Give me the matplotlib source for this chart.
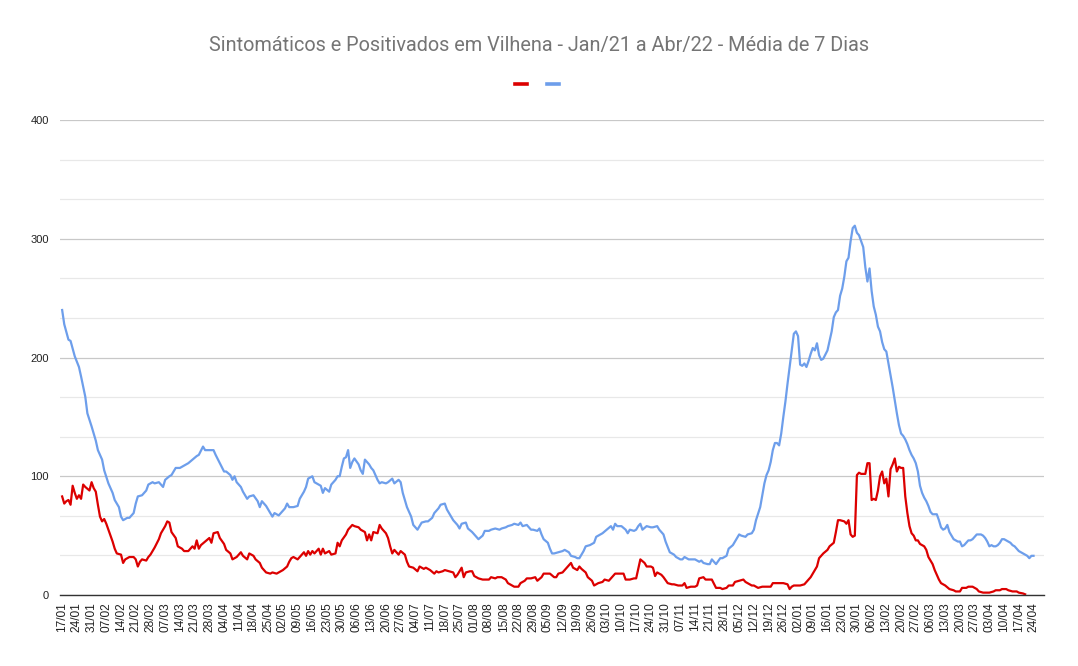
import matplotlib
matplotlib.use("Agg")
import matplotlib.pyplot as plt
import numpy as np
import pandas as pd

# days since 17/01/2021 and 7-day averages
sint_days = [0, 1, 3, 4, 6, 8, 9, 11, 12, 14, 16, 17, 19, 20, 22, 24, 25, 27, 28, 29,
             31, 32, 34, 35, 36, 38, 40, 41, 43, 44, 46, 48, 49, 51, 52, 54, 56, 57, 59, 60,
             62, 64, 65, 67, 68, 70, 72, 73, 75, 77, 78, 80, 81, 82, 83, 85, 86, 88, 89, 91,
             93, 94, 95, 97, 98, 100, 101, 103, 104, 106, 107, 108, 110, 112, 113, 115, 116, 117, 119, 120,
             122, 123, 124, 125, 127, 128, 130, 131, 132, 133, 134, 135, 136, 137, 138, 139, 141, 142, 143, 144,
             146, 147, 148, 150, 151, 152, 154, 155, 157, 158, 160, 161, 162, 164, 166, 167, 169, 171, 173, 174,
             176, 177, 179, 180, 182, 183, 185, 186, 188, 189, 190, 192, 193, 195, 196, 198, 200, 201, 203, 204,
             206, 208, 209, 211, 212, 214, 215, 217, 218, 219, 221, 223, 224, 226, 227, 228, 229, 231, 232, 233,
             234, 236, 238, 239, 241, 242, 244, 245, 246, 248, 249, 251, 253, 254, 256, 257, 259, 261, 262, 263,
             264, 266, 268, 269, 270, 272, 273, 274, 275, 276, 278, 280, 281, 283, 284, 286, 287, 289, 291, 292,
             294, 295, 296, 298, 299, 301, 303, 304, 305, 307, 308, 309, 311, 313, 314, 316, 317, 319, 321, 322,
             323, 325, 326, 328, 329, 330, 332, 333, 334, 335, 336, 337, 338, 339, 340, 341, 342, 343, 344, 345,
             346, 347, 348, 349, 350, 351, 352, 353, 354, 355, 356, 357, 358, 359, 360, 361, 362, 364, 365, 366,
             367, 368, 369, 370, 371, 372, 373, 374, 375, 376, 377, 378, 379, 380, 381, 382, 383, 384, 385, 386,
             387, 388, 389, 390, 391, 392, 393, 394, 395, 396, 397, 398, 399, 400, 401, 402, 403, 404, 405, 406,
             407, 408, 409, 410, 411, 412, 413, 414, 415, 416, 417, 418, 419, 420, 421, 422, 423, 424, 425, 426,
             427, 428, 429, 430, 431, 432, 433, 434, 435, 436, 437, 438, 439, 440, 441, 442, 443, 444, 445, 446,
             447, 448, 449, 450, 451, 452, 453, 454, 455, 456, 457, 458, 459, 460, 461, 462]
sint_vals = [240, 228, 215, 214, 201, 192, 184, 167, 153, 142, 130, 122, 114, 105, 94, 86, 80, 74, 66, 63,
             65, 65, 69, 77, 83, 84, 88, 93, 95, 94, 95, 91, 97, 100, 101, 107, 107, 108, 110, 111,
             114, 117, 118, 125, 122, 122, 122, 118, 111, 104, 104, 101, 97, 100, 95, 91, 87, 81, 83, 84,
             79, 74, 79, 75, 72, 66, 69, 67, 69, 73, 77, 74, 74, 75, 81, 87, 91, 98, 100, 95,
             93, 92, 86, 90, 87, 93, 97, 100, 100, 108, 115, 116, 122, 107, 112, 115, 110, 105, 102, 114,
             110, 107, 105, 97, 94, 95, 94, 95, 98, 94, 97, 95, 86, 74, 66, 59, 55, 61, 62, 62,
             65, 69, 73, 76, 77, 72, 66, 63, 59, 56, 60, 61, 56, 53, 51, 47, 50, 54, 54, 55,
             56, 55, 56, 57, 58, 59, 60, 59, 61, 58, 59, 55, 55, 54, 56, 51, 47, 44, 39, 35,
             35, 36, 37, 38, 36, 33, 32, 31, 31, 37, 41, 42, 44, 49, 51, 52, 55, 58, 55, 60,
             58, 58, 55, 52, 55, 54, 55, 58, 60, 55, 58, 57, 57, 58, 55, 51, 45, 36, 34, 32,
             30, 30, 32, 30, 30, 30, 28, 29, 27, 26, 26, 30, 26, 31, 31, 33, 39, 42, 48, 51,
             50, 49, 51, 52, 55, 63, 74, 84, 94, 101, 105, 112, 122, 128, 128, 126, 136, 150, 163, 178,
             192, 206, 220, 222, 218, 194, 193, 195, 192, 197, 203, 208, 206, 212, 202, 198, 199, 206, 214, 222,
             234, 238, 240, 252, 258, 268, 281, 284, 298, 309, 311, 305, 303, 298, 293, 276, 264, 275, 256, 243,
             236, 226, 222, 213, 207, 205, 195, 185, 175, 164, 153, 143, 136, 134, 131, 127, 122, 118, 115, 111,
             104, 92, 86, 82, 79, 75, 70, 68, 68, 68, 63, 57, 55, 56, 59, 53, 50, 47, 46, 45,
             45, 41, 42, 44, 46, 46, 47, 49, 51, 51, 51, 50, 48, 45, 41, 42, 41, 41, 42, 44,
             47, 47, 46, 45, 44, 42, 41, 39, 37, 36, 35, 34, 33, 31, 33, 33]

pos_days = [0, 1, 2, 3, 4, 5, 6, 7, 8, 9, 10, 11, 13, 14, 15, 16, 17, 18, 19, 20,
            21, 22, 24, 25, 26, 28, 29, 30, 32, 34, 35, 36, 37, 38, 40, 41, 42, 44, 46, 47,
            49, 50, 51, 52, 54, 55, 57, 58, 60, 62, 63, 64, 65, 66, 68, 70, 71, 72, 74, 75,
            77, 78, 80, 81, 83, 85, 86, 88, 89, 91, 92, 94, 95, 97, 99, 100, 102, 103, 105, 107,
            108, 109, 110, 112, 113, 115, 116, 117, 118, 119, 120, 122, 123, 124, 125, 127, 128, 130, 131, 132,
            133, 135, 136, 138, 139, 141, 142, 144, 145, 146, 147, 148, 150, 151, 152, 154, 155, 156, 157, 158,
            160, 161, 163, 164, 165, 167, 169, 170, 172, 173, 175, 177, 178, 179, 181, 182, 184, 186, 187, 188,
            190, 191, 192, 194, 195, 196, 198, 200, 201, 203, 204, 206, 207, 209, 211, 212, 214, 215, 217, 218,
            220, 221, 223, 225, 226, 228, 229, 231, 232, 234, 235, 236, 238, 239, 240, 242, 243, 245, 246, 247,
            249, 250, 252, 253, 255, 257, 258, 260, 261, 263, 265, 266, 267, 268, 270, 272, 273, 274, 275, 277,
            278, 280, 281, 282, 283, 285, 286, 288, 290, 291, 293, 295, 296, 297, 299, 301, 302, 303, 305, 306,
            308, 309, 311, 313, 314, 316, 317, 319, 320, 322, 324, 325, 326, 328, 329, 331, 333, 334, 336, 337,
            338, 340, 342, 343, 345, 346, 347, 348, 350, 351, 353, 354, 356, 357, 359, 360, 362, 364, 365, 367,
            368, 369, 370, 372, 373, 374, 375, 376, 377, 378, 379, 380, 381, 382, 383, 384, 385, 386, 387, 388,
            389, 390, 391, 392, 393, 394, 395, 396, 397, 398, 399, 400, 401, 402, 403, 404, 405, 406, 407, 408,
            410, 411, 412, 414, 415, 416, 417, 418, 419, 420, 422, 424, 425, 427, 428, 430, 431, 433, 435, 436,
            438, 439, 441, 443, 444, 446, 447, 449, 450, 452, 454, 455, 457, 458]
pos_vals = [83, 77, 79, 80, 76, 92, 86, 81, 84, 81, 93, 91, 88, 95, 90, 87, 76, 66, 62, 64,
            60, 55, 45, 39, 35, 34, 27, 30, 32, 32, 30, 24, 28, 30, 29, 32, 34, 40, 47, 52,
            58, 62, 61, 53, 48, 41, 39, 37, 37, 41, 39, 46, 39, 42, 45, 48, 44, 52, 53, 48,
            43, 38, 35, 30, 32, 36, 33, 30, 35, 33, 30, 27, 23, 19, 18, 19, 18, 19, 21, 24,
            28, 31, 32, 30, 32, 36, 33, 37, 34, 37, 35, 39, 34, 39, 35, 37, 34, 35, 44, 41,
            46, 51, 55, 59, 58, 57, 55, 53, 46, 51, 46, 53, 52, 59, 56, 52, 48, 41, 35, 38,
            34, 37, 34, 28, 24, 23, 20, 24, 22, 23, 21, 18, 20, 19, 20, 21, 20, 19, 15, 17,
            23, 15, 19, 20, 20, 16, 14, 13, 13, 13, 15, 14, 15, 15, 13, 10, 8, 7, 7, 10,
            12, 14, 14, 15, 12, 15, 18, 18, 18, 15, 15, 18, 19, 21, 23, 27, 23, 21, 24, 22,
            19, 15, 12, 8, 10, 11, 13, 12, 14, 18, 18, 18, 18, 13, 13, 14, 14, 22, 30, 27,
            24, 24, 23, 16, 19, 17, 15, 10, 9, 9, 8, 8, 10, 6, 7, 7, 8, 14, 15, 13,
            13, 13, 6, 6, 5, 6, 8, 8, 11, 12, 13, 11, 10, 8, 8, 6, 7, 7, 7, 7,
            10, 10, 10, 10, 9, 5, 7, 8, 8, 8, 9, 11, 15, 18, 24, 31, 35, 38, 41, 44,
            53, 63, 63, 62, 60, 63, 51, 49, 50, 101, 103, 102, 102, 102, 111, 111, 80, 81, 80, 88,
            100, 104, 94, 98, 83, 106, 110, 115, 104, 108, 107, 107, 83, 69, 58, 52, 50, 46, 46, 43,
            41, 38, 32, 26, 21, 17, 13, 10, 9, 8, 5, 4, 3, 3, 6, 6, 7, 7, 5, 3,
            2, 2, 2, 3, 4, 4, 5, 5, 4, 3, 3, 2, 1.3, 0.6]

tick_days = np.arange(0, 463, 7)
tick_labels = pd.date_range("2021-01-17", periods=len(tick_days), freq="7D").strftime("%d/%m")

plt.rcParams["font.family"] = ["Liberation Sans", "DejaVu Sans"]

fig = plt.figure(figsize=(10.78, 6.66), dpi=100)
ax = fig.add_axes([0.0557, 0.1066, 0.9128, 0.7132])

red_line, = ax.plot(pos_days, pos_vals, color="#dc0000", lw=1.6, label=" ")
blue_line, = ax.plot(sint_days, sint_vals, color="#6d9eeb", lw=1.6, label=" ")

ax.set_xlim(-1, 467)
ax.set_ylim(0, 400)
ax.set_yticks([0, 100, 200, 300, 400])
ax.set_yticks(np.arange(0, 401, 100 / 3), minor=True)
ax.grid(axis="y", which="minor", color="#e8e8e8", lw=0.9)
ax.grid(axis="y", which="major", color="#c8c8c8", lw=0.9)
ax.set_axisbelow(True)

ax.set_xticks(tick_days)
ax.set_xticklabels(tick_labels, rotation=90, fontsize=8.6, color="#222222")
ax.tick_params(axis="x", length=0, pad=5)
ax.tick_params(axis="y", which="both", length=0, pad=8, labelsize=8, labelcolor="#222222")

for s in ["top", "right", "left"]:
    ax.spines[s].set_visible(False)
ax.spines["bottom"].set_color("#333333")
ax.spines["bottom"].set_linewidth(1.0)

fig.text(0.5, 1 - 45 / 666, "Sintomáticos e Positivados em Vilhena - Jan/21 a Abr/22 - Média de 7 Dias",
         ha="center", va="center", fontsize=14.3, color="#757575", family=["Roboto", "DejaVu Sans"])

leg = fig.legend(handles=[red_line, blue_line], loc="center", bbox_to_anchor=(0.5, 1 - 85 / 666),
                 ncol=2, frameon=False, handlelength=0.9, handletextpad=0.0, columnspacing=1.1, fontsize=10)
for h in leg.legend_handles:
    h.set_linewidth(2.6)

fig.savefig("out.png", dpi=100)
